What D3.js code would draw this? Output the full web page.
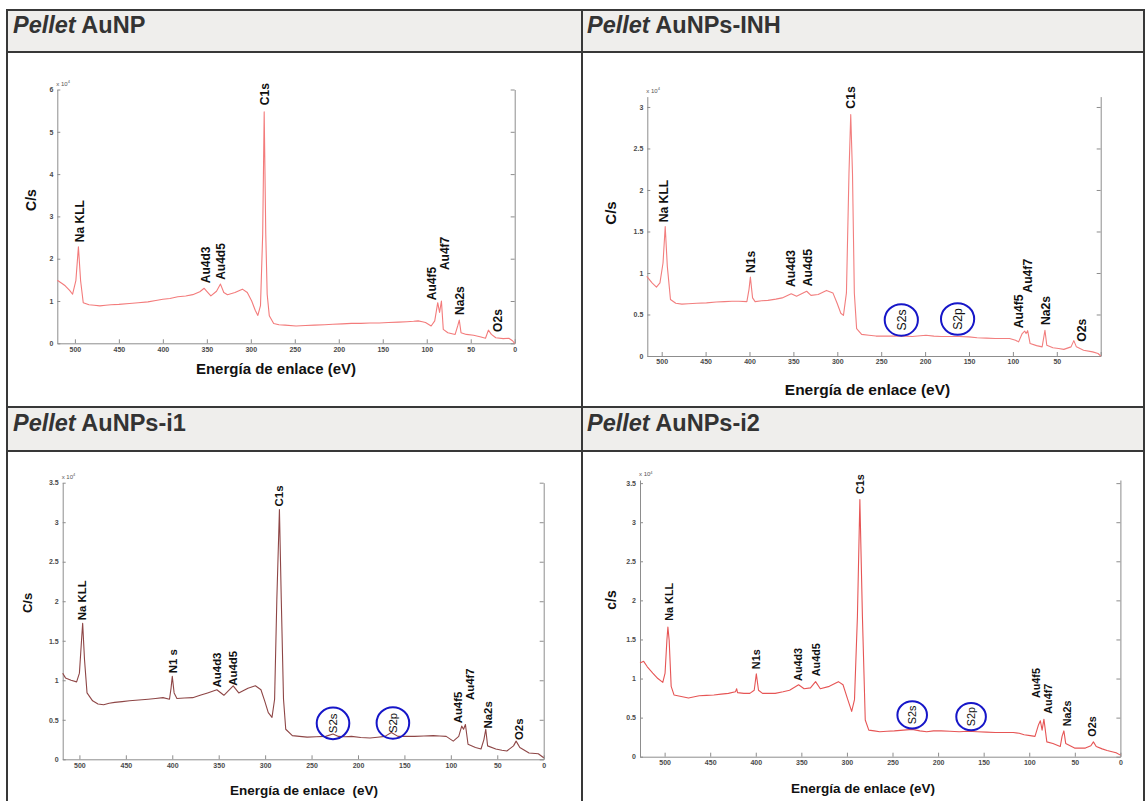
<!DOCTYPE html>
<html><head><meta charset="utf-8">
<script src="https://cdn.jsdelivr.net/npm/d3@7"></script>
<style>
body{margin:0;background:#fff;}
svg{display:block;font-family:"Liberation Sans",Arial,Helvetica,sans-serif;}
</style>
</head><body>
<svg id="chart" width="1146" height="801"></svg>
<script>
// ---------------- DATA ----------------
const panelNames = ["AuNP", "AuNPs-INH", "AuNPs-i1", "AuNPs-i2"];
const xTickValues = [500, 450, 400, 350, 300, 250, 200, 150, 100, 50, 0];
const yTicksAuNP = [0, 1, 2, 3, 4, 5, 6];
const yTicksINH = [0, 0.5, 1, 1.5, 2, 2.5, 3];
const yTicksI = [0, 0.5, 1, 1.5, 2, 2.5, 3, 3.5];
const yAxisTitles = ["C/s", "C/s", "C/s", "c/s"];
const xAxisTitles = ["Energía de enlace (eV)", "Energía de enlace (eV)", "Energía de enlace  (eV)", "Energía de enlace (eV)"];
const scaleNote = "x 10";
const scaleExp = "4";

// [binding energy eV, counts per second x 10^4]
const spectrumAuNP = [
 [520,1.49],[515,1.42],[511,1.36],[506,1.25],[502.6,1.16],[498.9,1.48],[496,2.28],[493.5,1.48],[490.5,0.96],
 [484,0.91],[478,0.9],[471.6,0.885],[465,0.9],[459,0.91],[450,0.92],[438,0.94],[428,0.96],[417,0.98],[408,1.01],
 [400,1.04],[392,1.06],[383,1.1],[374,1.12],[366,1.15],[358,1.22],[353,1.3],[348.8,1.2],[345.4,1.12],[339,1.23],
 [334.5,1.4],[330.7,1.2],[326.5,1.15],[318,1.2],[309.6,1.28],[304,1.2],[299,1.0],[295,0.78],[292,0.66],[289,0.89],
 [286.5,2.58],[284.8,5.47],[283,2.58],[281.4,1.16],[279,0.65],[274,0.47],[268,0.44],[261,0.43],[248.6,0.41],
 [238,0.42],[227.6,0.43],[216,0.44],[206.6,0.45],[196,0.46],[185.5,0.47],[175,0.47],[164.5,0.48],[154,0.48],
 [143.5,0.49],[132,0.5],[122.4,0.51],[115,0.52],[109.8,0.53],[105,0.51],[101.4,0.49],[95,0.41],[90.9,0.53],
 [87.5,0.96],[85.4,0.73],[83.3,1.0],[81.2,0.33],[76,0.25],[67.7,0.21],[64.8,0.41],[63,0.55],[61,0.25],[55,0.21],
 [46.7,0.19],[38.3,0.15],[33.2,0.12],[29.9,0.31],[26.5,0.21],[21.5,0.13],[13,0.11],[6.7,0.12],[2.5,0.06],[0,0]
];
const spectrumINH = [
 [517,0.96],[511,0.88],[506,0.83],[502,0.88],[498.5,1.12],[496,1.56],[493.6,1.08],[490,0.68],[484,0.635],
 [477,0.625],[469.7,0.63],[460,0.635],[449,0.64],[438,0.65],[428.5,0.655],[420,0.66],[412,0.66],[403,0.655],
 [400.6,0.8],[399,0.95],[396.5,0.7],[393.6,0.655],[386,0.665],[379,0.67],[370,0.685],[362.8,0.7],[352.5,0.75],
 [346.4,0.72],[334.9,0.78],[330,0.73],[321.8,0.74],[312.3,0.79],[305,0.76],[300.2,0.635],[296,0.515],[293,0.49],
 [289.6,0.76],[286.7,2.2],[284.7,2.91],[282.7,2.2],[280.6,0.76],[278,0.33],[272.3,0.26],[264,0.25],[256,0.24],
 [243,0.24],[231,0.24],[222,0.24],[214.8,0.235],[199,0.25],[190,0.24],[181.8,0.235],[171,0.235],[161.4,0.235],
 [150,0.23],[140.8,0.22],[130,0.215],[120.3,0.21],[110,0.21],[103.8,0.21],[97,0.19],[93.5,0.17],[89.4,0.27],
 [86.6,0.3],[85,0.27],[83.2,0.305],[80.4,0.15],[73,0.125],[66.7,0.11],[64.7,0.235],[63.5,0.31],[61.4,0.13],
 [54.4,0.1],[48,0.09],[42,0.08],[33.8,0.11],[30.6,0.185],[27.7,0.11],[19.5,0.07],[9.2,0.05],[3,0.03],[0,0]
];
const spectrumI1 = [
 [518,1.09],[515,1.03],[509,1.0],[503,0.98],[500,1.09],[497.7,1.51],[496.5,1.72],[494.5,1.26],[491.8,0.84],
 [485.8,0.74],[480,0.7],[473.9,0.69],[468,0.71],[462,0.72],[454,0.73],[446,0.74],[436,0.75],[426,0.76],[418,0.77],
 [410,0.78],[403,0.76],[401.3,0.9],[400,1.05],[398,0.84],[395,0.77],[387,0.775],[378,0.78],[370,0.81],[362,0.84],
 [352,0.88],[344.4,0.81],[334.4,0.93],[328.4,0.84],[318.5,0.9],[310.5,0.93],[304.5,0.88],[300.5,0.74],[296.6,0.59],
 [292.6,0.53],[289.8,0.76],[287.4,2.02],[284.6,3.16],[282.6,2.02],[280.2,0.76],[277.8,0.38],[270.7,0.3],[263,0.29],
 [254.8,0.28],[245,0.285],[234.9,0.29],[226.9,0.32],[221,0.29],[214,0.285],[207,0.29],[197,0.275],[187,0.27],
 [179,0.28],[171,0.29],[164,0.34],[157,0.29],[148,0.29],[139,0.29],[129,0.295],[119,0.3],[112,0.295],[105,0.29],
 [97.4,0.23],[91.5,0.29],[88.3,0.42],[86.3,0.38],[84.3,0.44],[81.5,0.19],[73.5,0.15],[67.5,0.13],[64.4,0.25],
 [62.4,0.38],[60.4,0.17],[51.6,0.13],[45,0.115],[39.7,0.105],[32.5,0.17],[29.7,0.23],[25.7,0.15],[15.8,0.08],
 [5.8,0.07],[0,0.02]
];
const spectrumI2 = [
 [527,1.2],[523,1.22],[519,1.15],[513,1.07],[507.4,1.0],[502,0.95],[499.5,1.07],[497.5,1.49],[496.4,1.66],
 [495,1.49],[492.8,0.9],[489.7,0.79],[481.8,0.77],[473.8,0.75],[466,0.77],[462,0.78],[454,0.785],[446,0.79],
 [438,0.8],[430,0.81],[422.3,0.83],[421,0.87],[420,0.82],[413,0.81],[406.5,0.81],[401.7,0.85],[399.4,1.06],
 [397,0.85],[392.6,0.81],[386,0.81],[378.7,0.81],[370,0.83],[362.9,0.85],[353,0.92],[347,0.87],[340,0.88],
 [334.4,0.96],[329.2,0.87],[319.3,0.9],[309.4,0.96],[304.3,0.92],[299.6,0.75],[294.8,0.58],[291.7,0.73],
 [288.5,1.79],[285.8,3.29],[283,1.79],[279.9,0.47],[276,0.34],[270,0.33],[264,0.32],[256,0.325],[248,0.33],
 [238,0.34],[228.4,0.35],[220,0.33],[212.5,0.32],[205,0.33],[196.7,0.33],[187,0.325],[176.9,0.32],[167,0.325],
 [157.1,0.32],[147,0.315],[137.3,0.31],[127,0.31],[117.5,0.31],[111,0.3],[105.6,0.28],[99,0.27],[93.7,0.26],
 [89.8,0.41],[87.8,0.46],[85.9,0.34],[83.9,0.48],[80.7,0.19],[74,0.17],[66,0.13],[64,0.26],[62,0.33],[60,0.17],
 [50.3,0.11],[44,0.11],[38.4,0.11],[32.4,0.14],[29.6,0.19],[26.5,0.13],[20,0.1],[14.6,0.08],[4.7,0.05],[0,0.02]
];

// peak annotations: [text, eV, counts x10^4 where the text starts]
const peaksAuNP = [["Na KLL",494.9,2.39],["Au4d3",351.8,1.42],["Au4d5",334.1,1.5],["C1s",284.5,5.63],
 ["Au4f5",94,1.02],["Au4f7",79.3,1.73],["Na2s",62.3,0.67],["O2s",19.4,0.27]];
const peaksINH = [["Na KLL",497.6,1.61],["N1s",398.5,1.0],["Au4d3",353.3,0.83],["Au4d5",334.1,0.84],
 ["C1s",284.6,2.98],["Au4f5",93,0.334],["Au4f7",83.3,0.763],["Na2s",62.6,0.373],["O2s",21.5,0.172]];
const peaksI1 = [["Na KLL",497,1.76],["N1 s",399,1.09],["Au4d3",352.4,0.91],["Au4d5",334.4,0.93],
 ["C1s",284.7,3.2],["Au4f5",92.7,0.455],["Au4f7",79.6,0.75],["Na2s",60.4,0.39],["O2s",26.6,0.244]];
const peaksI2 = [["Na KLL",495.6,1.74],["N1s",399.3,1.12],["Au4d3",353.1,0.97],["Au4d5",334.1,1.03],
 ["C1s",285.7,3.36],["Au4f5",93,0.75],["Au4f7",79.2,0.55],["Na2s",59,0.39],["O2s",30.5,0.256]];
// circled sulfur peaks: [text, eV, counts x10^4 at circle centre]
const sulfurINH = [["S2s",227.1,0.434],["S2p",163,0.446]];
const sulfurI1 = [["S2s",226.9,0.455],["S2p",162.4,0.46]];
const sulfurI2 = [["S2s",228.4,0.534],["S2p",163.8,0.512]];

// ---------------- LAYOUT ----------------
const svg = d3.select("#chart");
const FONT = '"Liberation Sans",Arial,Helvetica,sans-serif';

// table
const tbl = {left:7, right:1144, mid:582, top1:10, head1:52, top2:407, head2:451, bottom:812};
const headerFill = "#efeeec", borderCol = "#383838";
svg.append("rect").attr("x",tbl.left).attr("y",tbl.top1).attr("width",tbl.right-tbl.left).attr("height",tbl.head1-tbl.top1).attr("fill",headerFill);
svg.append("rect").attr("x",tbl.left).attr("y",tbl.top2).attr("width",tbl.right-tbl.left).attr("height",tbl.head2-tbl.top2).attr("fill",headerFill);
const hLines = [tbl.top1, tbl.head1, tbl.top2, tbl.head2];
hLines.forEach(y => svg.append("line").attr("x1",tbl.left).attr("x2",tbl.right).attr("y1",y).attr("y2",y).attr("stroke",borderCol).attr("stroke-width",2));
[tbl.left, tbl.mid, tbl.right].forEach(x => svg.append("line").attr("x1",x).attr("x2",x).attr("y1",tbl.top1-1).attr("y2",tbl.bottom).attr("stroke",borderCol).attr("stroke-width",2));

const panels = [
 {name:panelNames[0], data:spectrumAuNP, peaks:peaksAuNP, circles:[], yTicks:yTicksAuNP,
  yTitle:yAxisTitles[0], xTitle:xAxisTitles[0], titlePos:[13,33],
  xDom:[520,0], xRng:[57.3,514.7], yDom:[0,6], yRng:[343.3,89.5],
  color:"#f37b7b", lab:12, xt:[276,374,15], yt:[31.4,200,14], hide0:false, ell:[16,15.5]},
 {name:panelNames[1], data:spectrumINH, peaks:peaksINH, circles:sulfurINH, yTicks:yTicksINH,
  yTitle:yAxisTitles[1], xTitle:xAxisTitles[1], titlePos:[587,33],
  xDom:[516.4,0], xRng:[647.3,1100.7], yDom:[0,3.125], yRng:[356,96.6],
  color:"#f27e7e", lab:12.2, xt:[867.5,395,15.5], yt:[610.7,213,15], hide0:true, ell:[16.6,15.8]},
 {name:panelNames[2], data:spectrumI1, peaks:peaksI1, circles:sulfurI1, yTicks:yTicksI,
  yTitle:yAxisTitles[2], xTitle:xAxisTitles[2], titlePos:[13,431],
  xDom:[518,0], xRng:[62.7,543.7], yDom:[0,3.5], yRng:[759.3,482.7],
  color:"#8e4646", lab:11.4, xt:[304,795,13.5], yt:[27.7,603,13], hide0:false, ell:[16.3,15.8]},
 {name:panelNames[3], data:spectrumI2, peaks:peaksI2, circles:sulfurI2, yTicks:yTicksI,
  yTitle:yAxisTitles[3], xTitle:xAxisTitles[3], titlePos:[587,431],
  xDom:[527,0], xRng:[640,1120.4], yDom:[0,3.54], yRng:[756.7,480],
  color:"#e65555", lab:10.8, xt:[863,793,13.5], yt:[610.7,600,14], hide0:false, ell:[14.8,13.6]}
];

const axisCol = "#8d8d8d", tickTextCol = "#4a4a4a";
const fmt = d => (Math.round(d*10)/10).toString();

panels.forEach(p => {
  // title
  const t = svg.append("text").attr("x",p.titlePos[0]).attr("y",p.titlePos[1])
    .attr("font-size",23.5).attr("font-weight","bold").attr("fill","#333");
  t.append("tspan").attr("font-style","italic").text("Pellet");
  t.append("tspan").text(" " + p.name);

  const x = d3.scaleLinear().domain(p.xDom).range(p.xRng);
  const y = d3.scaleLinear().domain(p.yDom).range(p.yRng);
  const g = svg.append("g");

  // bottom axis
  const bx = g.append("g").attr("transform",`translate(0,${p.yRng[0]})`)
    .call(d3.axisBottom(x).tickValues(xTickValues).tickSizeInner(-4).tickSizeOuter(0).tickPadding(3.5)
      .tickFormat(d => (p.hide0 && d===0) ? "" : d));
  // left axis
  const lx = g.append("g").attr("transform",`translate(${p.xRng[0]},0)`)
    .call(d3.axisLeft(y).tickValues(p.yTicks).tickSizeInner(-3).tickSizeOuter(0).tickPadding(4).tickFormat(fmt));
  // right axis
  const rx = g.append("g").attr("transform",`translate(${p.xRng[1]},0)`)
    .call(d3.axisRight(y).tickValues(p.yTicks).tickSizeInner(-4).tickSizeOuter(0).tickFormat(""));
  [bx,lx,rx].forEach(a => {
    a.select(".domain").attr("stroke",axisCol).attr("stroke-width",1);
    a.selectAll(".tick line").attr("stroke",axisCol);
    a.selectAll(".tick text").attr("fill",tickTextCol).attr("font-size",7).attr("font-weight","bold").attr("font-family",FONT);
  });

  // scale note x 10^4
  const sn = g.append("text").attr("x",p.xRng[0]-1).attr("y",p.yRng[1]-4)
    .attr("font-size",6).attr("fill","#555");
  sn.append("tspan").text(scaleNote);
  sn.append("tspan").attr("dy",-2.5).attr("font-size",4).text(scaleExp);

  // spectrum
  const line = d3.line().x(d => x(d[0])).y(d => y(d[1]));
  g.append("path").datum(p.data).attr("d",line).attr("fill","none")
    .attr("stroke",p.color).attr("stroke-width",1.1).attr("stroke-linejoin","round");

  // peak labels (rotated)
  g.selectAll("text.peak").data(p.peaks).join("text").attr("class","peak")
    .attr("transform",d => `translate(${x(d[1])},${y(d[2])}) rotate(-90)`)
    .attr("dy","0.36em").attr("font-size",p.lab).attr("font-weight","bold").attr("fill","#111")
    .text(d => d[0]);

  // circled sulfur peaks
  p.circles.forEach(c => {
    g.append("ellipse").attr("cx",x(c[1])).attr("cy",y(c[2])).attr("rx",p.ell[0]).attr("ry",p.ell[1])
      .attr("fill","none").attr("stroke","#1616c8").attr("stroke-width",2);
    g.append("text").attr("transform",`translate(${x(c[1])},${y(c[2])}) rotate(-90)`)
      .attr("text-anchor","middle").attr("dy","0.36em").attr("font-size",p.lab).attr("fill","#111")
      .text(c[0]);
  });

  // axis titles
  g.append("text").attr("x",p.xt[0]).attr("y",p.xt[1]).attr("text-anchor","middle")
    .attr("font-size",p.xt[2]).attr("font-weight","bold").attr("fill","#111")
    .style("white-space","pre").text(p.xTitle);
  g.append("text").attr("transform",`translate(${p.yt[0]},${p.yt[1]}) rotate(-90)`)
    .attr("text-anchor","middle").attr("dy","0.36em").attr("font-size",p.yt[2]).attr("font-weight","bold").attr("fill","#111")
    .text(p.yTitle);
});
</script>
</body></html>
